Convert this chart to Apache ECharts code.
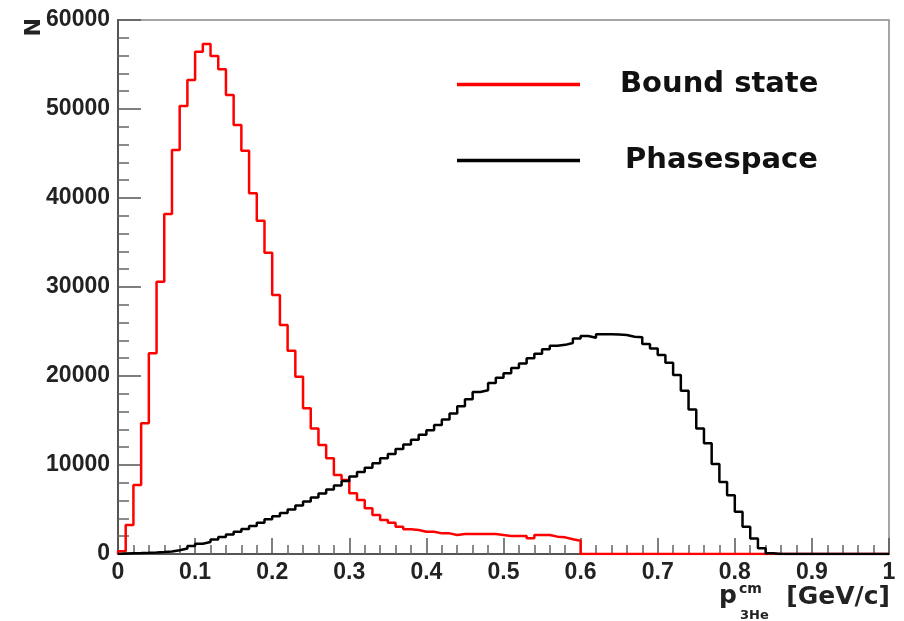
<!DOCTYPE html>
<html>
<head>
<meta charset="utf-8">
<script src="https://cdn.jsdelivr.net/npm/echarts@6/dist/echarts.min.js"></script>
<style>html,body{margin:0;padding:0;background:#fff}#c{width:904px;height:621px}</style>
</head>
<body>
<div id="c"></div>
<script>
// Histogram: 100 bins of width 0.01 from 0 to 1 (p_3He^cm in GeV/c)
var binWidth = 0.01;
var boundState = [
  300, 3260, 7750, 14680, 22550, 30600, 38200, 45390, 50340, 53260,
  56440, 57300, 55960, 54460, 51570, 48200, 45320, 40530, 37450, 33850,
  29100, 25730, 22840, 19920, 16370, 14100, 12250, 10750, 8880, 8310,
  6820, 6070, 5130, 4380, 3820, 3520, 3070, 2770, 2700, 2510,
  2510, 2320, 2320, 2130, 2250, 2250, 2250, 2250, 2250, 2130,
  2020, 2020, 2020, 1760, 2130, 2130, 1950, 1870, 1650, 1500,
  0, 0, 0, 0, 0, 0, 0, 0, 0, 0,
  0, 0, 0, 0, 0, 0, 0, 0, 0, 0,
  0, 0, 0, 0, 0, 0, 0, 0, 0, 0,
  0, 0, 0, 0, 0, 0, 0, 0, 0, 0
];
var phaseSpace = [
  50, 80, 100, 130, 170, 220, 280, 420, 620, 900,
  1150, 1350, 1620, 1900, 2200, 2500, 2800, 3150, 3500, 3900,
  4250, 4600, 5000, 5450, 5900, 6350, 6800, 7250, 7700, 8200,
  8700, 9200, 9700, 10200, 10750, 11250, 11800, 12300, 12850, 13400,
  13900, 14500, 15100, 15800, 16600, 17400, 18200, 18400, 19200, 19800,
  20300, 20900, 21400, 22000, 22500, 23000, 23400, 23500, 23700, 24200,
  24500, 24300, 24700, 24700, 24650, 24600, 24400, 24350, 23600, 23100,
  22350, 21500, 20100, 18350, 16250, 14100, 12450, 10100, 8100, 6600,
  4750, 3050, 1750, 650, 80, 0, 0, 0, 0, 0,
  0, 0, 0, 0, 0, 0, 0, 0, 0, 0
];
var xTicks = [0, 0.1, 0.2, 0.3, 0.4, 0.5, 0.6, 0.7, 0.8, 0.9, 1];
var yTicks = [0, 10000, 20000, 30000, 40000, 50000, 60000];
var seriesNames = ['Bound state', 'Phasespace'];

function toSteps(vals) {
  var d = [[0, 0]];
  for (var i = 0; i < vals.length; i++) {
    d.push([+(i * binWidth).toFixed(2), vals[i]]);
  }
  d.push([1, vals[vals.length - 1]]);
  return d;
}

var FONT = 'Liberation Sans';
var WFONT = 'DejaVu Sans';
var chart = echarts.init(document.getElementById('c'));
chart.setOption({
  animation: false,
  backgroundColor: '#fff',
  grid: { left: 118, right: 15, top: 20, bottom: 67, show: true, borderColor: '#888', borderWidth: 1.5 },
  legend: {
    orient: 'vertical', left: 457, top: 70, itemGap: 47, padding: 0,
    icon: 'rect', itemWidth: 123, itemHeight: 3.5,
    data: seriesNames,
    formatter: function (n) { return n === 'Bound state' ? '{a|' + n + '}' : '{b|' + n + '}'; },
    textStyle: {
      rich: {
        a: { fontFamily: WFONT, fontWeight: 'bold', fontSize: 29, color: '#111', padding: [0, 0, 0, 35], lineHeight: 30 },
        b: { fontFamily: WFONT, fontWeight: 'bold', fontSize: 29, color: '#111', padding: [0, 0, 0, 40], lineHeight: 30 }
      }
    }
  },
  xAxis: {
    type: 'value', min: xTicks[0], max: xTicks[xTicks.length - 1], interval: 0.1,
    axisLine: { lineStyle: { color: '#555', width: 2 } },
    axisTick: { inside: true, length: 16, lineStyle: { color: '#555', width: 1.5 } },
    minorTick: { show: true, splitNumber: 5, length: 9, lineStyle: { color: '#666', width: 1.5 } },
    splitLine: { show: false },
    axisLabel: { fontFamily: FONT, fontWeight: 'bold', fontSize: 23, color: '#222', margin: 7,
      formatter: function (v) { return String(+v.toFixed(1)); } }
  },
  yAxis: {
    type: 'value', min: yTicks[0], max: yTicks[yTicks.length - 1], interval: 10000,
    axisLine: { show: true, lineStyle: { color: '#555', width: 2 } },
    axisTick: { show: true, inside: true, length: 23, lineStyle: { color: '#555', width: 1.5 } },
    minorTick: { show: true, splitNumber: 5, length: 11, lineStyle: { color: '#666', width: 1.5 } },
    splitLine: { show: false },
    axisLabel: { fontFamily: FONT, fontWeight: 'bold', fontSize: 23, color: '#222', margin: 8,
      formatter: function (v) { return String(v); } }
  },
  graphic: [
    { type: 'text', x: 23, y: 18, rotation: Math.PI / 2, style: { text: 'N', font: 'bold 22px ' + WFONT, fill: '#222', textAlign: 'right', textVerticalAlign: 'top' } },
    { type: 'text', x: 719, y: 596, style: { text: 'p', font: 'bold 25px ' + WFONT, fill: '#222', textVerticalAlign: 'middle' } },
    { type: 'text', x: 739, y: 582, style: { text: 'cm', font: 'bold 14px ' + WFONT, fill: '#222', textVerticalAlign: 'top' } },
    { type: 'text', x: 740, y: 609, style: { text: '3He', font: 'bold 13px ' + WFONT, fill: '#222', textVerticalAlign: 'top' } },
    { type: 'text', x: 890, y: 597, style: { text: '[GeV/c]', font: 'bold 25px ' + WFONT, fill: '#222', textAlign: 'right', textVerticalAlign: 'middle' } }
  ],
  series: [
    { name: seriesNames[0], type: 'line', step: 'end', symbol: 'none', data: toSteps(boundState),
      lineStyle: { color: '#ff0000', width: 2.5 }, itemStyle: { color: '#ff0000' }, z: 2 },
    { name: seriesNames[1], type: 'line', step: 'end', symbol: 'none', data: toSteps(phaseSpace),
      lineStyle: { color: '#000000', width: 2.5 }, itemStyle: { color: '#000000' }, z: 3 }
  ]
});
</script>
</body>
</html>
